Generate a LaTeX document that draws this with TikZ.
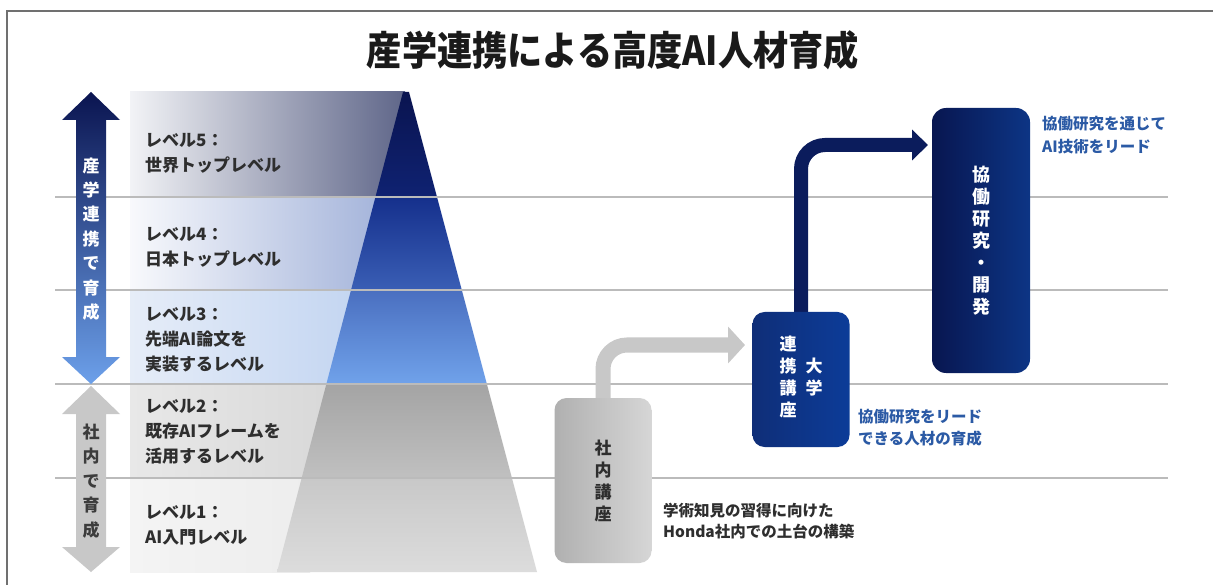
\documentclass[tikz,border=0pt]{standalone}
\usepackage{fontspec}
\setmainfont{Noto Sans CJK JP}
\usetikzlibrary{arrows.meta,calc}
\pgfdeclarelayer{fg}
\pgfsetlayers{main,fg}
\definecolor{framec}{HTML}{707070}
\definecolor{titlec}{HTML}{1A1A1A}
\definecolor{txtdark}{HTML}{2E2E2E}
\definecolor{txtmid}{HTML}{3C3C3C}
\definecolor{txtblue}{HTML}{2B5AA5}
\definecolor{linegray}{HTML}{BBBBBB}
\definecolor{navyd}{HTML}{0A1450}
\definecolor{lblue}{HTML}{6CA0EA}
\definecolor{arrgray}{HTML}{C8C8C8}
\definecolor{lev5L}{HTML}{F2F3F6}
\definecolor{lev5R}{HTML}{5F6689}
\definecolor{lev4L}{HTML}{F8F9FC}
\definecolor{lev4R}{HTML}{A3B3DA}
\definecolor{lev3L}{HTML}{E6EDF8}
\definecolor{lev3R}{HTML}{C3D5F1}
\definecolor{lev2L}{HTML}{E8E8E8}
\definecolor{lev2R}{HTML}{D8D8D8}
\definecolor{lev1L}{HTML}{F4F4F4}
\definecolor{lev1R}{HTML}{EDEDED}
\definecolor{pyr5T}{HTML}{0A1450}
\definecolor{pyr5B}{HTML}{0F2272}
\definecolor{pyr4T}{HTML}{15308C}
\definecolor{pyr4B}{HTML}{3A5EB5}
\definecolor{pyr3T}{HTML}{4A6FC0}
\definecolor{pyr3B}{HTML}{70A2EA}
\definecolor{pyr2T}{HTML}{A4A4A4}
\definecolor{pyr2B}{HTML}{C0C0C0}
\definecolor{pyr1T}{HTML}{C8C8C8}
\definecolor{pyr1B}{HTML}{DCDCDC}
\definecolor{boxgL}{HTML}{B0B0B0}
\definecolor{boxgR}{HTML}{D6D6D6}
\definecolor{univL}{HTML}{0F2E78}
\definecolor{univR}{HTML}{0C3C98}
\definecolor{resL}{HTML}{081650}
\definecolor{resR}{HTML}{0D3585}
\definecolor{navyarr}{HTML}{0B1C5C}
\begin{document}
\begin{tikzpicture}[x=1pt,y=-1pt,
  levtxt/.style={anchor=west,align=left,inner sep=0pt,text=txtdark,font=\bfseries\fontsize{17}{25}\selectfont},
  arrtxt/.style={align=center,inner sep=0pt,font=\bfseries\fontsize{17}{24.4}\selectfont},
  hline/.style={draw=linegray,line width=1.5pt},
  boxst/.style={rounded corners=12pt,minimum width=97pt,inner sep=0pt,align=center,font=\bfseries\fontsize{17}{22}\selectfont},
  bluetxt/.style={anchor=west,align=left,inner sep=0pt,text=txtblue,font=\bfseries\fontsize{15.5}{23}\selectfont},
  garrow/.style={draw=arrgray,line width=15pt,rounded corners=24pt,-{Triangle[length=17pt,width=36pt]}},
  narrow/.style={draw=navyarr,line width=14pt,rounded corners=24pt,-{Triangle[length=16pt,width=30pt]}}
]
\useasboundingbox (0,0) rectangle (1213,585);
\fill[white] (0,0) rectangle (1213,585);
% frame
\draw[framec,line width=1.5pt] (7,585) -- (7,11) -- (1213,11);
% title
\node[font=\bfseries\fontsize{40}{42}\selectfont,text=titlec,inner sep=0pt] (title) at (613,50) {\scalebox{0.88}[1]{産学連携による高度AI人材育成}};
% bands
\shade[left color=lev5L,right color=lev5R] (130,92) rectangle (405,197);
\shade[left color=lev4L,right color=lev4R] (130,197) rectangle (385,290);
\shade[left color=lev3L,right color=lev3R] (130,290) rectangle (360,384);
\shade[left color=lev2L,right color=lev2R] (130,384) rectangle (335,478);
\shade[left color=lev1L,right color=lev1R] (130,478) rectangle (310,572);
% pyramid
\begin{scope}
\clip (403,92) -- (409,92) -- (537,572) -- (277,572) -- cycle;
\shade[top color=pyr5T,bottom color=pyr5B] (250,92) rectangle (560,197);
\shade[top color=pyr4T,bottom color=pyr4B] (250,197) rectangle (560,290);
\shade[top color=pyr3T,bottom color=pyr3B] (250,290) rectangle (560,384);
\shade[top color=pyr2T,bottom color=pyr2B] (250,384) rectangle (560,478);
\shade[top color=pyr1T,bottom color=pyr1B] (250,478) rectangle (560,572);
\end{scope}
% separator lines
\foreach \yy in {197,290,384,478} \draw[hline] (55,\yy) -- (1168,\yy);
% left arrows
\shade[top color=navyd,bottom color=lblue] (91,92) -- (120,120) -- (106,120) -- (106,357) -- (120,357) -- (91,384) -- (62,357) -- (76,357) -- (76,120) -- (62,120) -- cycle;
\node[arrtxt,text=white] (upt) at (91,239) {産\\学\\連\\携\\で\\育\\成};
\fill[arrgray] (91,386) -- (120,414) -- (106,414) -- (106,547) -- (120,547) -- (91,572) -- (62,547) -- (76,547) -- (76,414) -- (62,414) -- cycle;
\node[arrtxt,text=txtmid] (dnt) at (91,481) {社\\内\\で\\育\\成};
% level texts
\node[levtxt] (l5) at (145,153) {レベル5：\\世界トップレベル};
\node[levtxt] (l4) at (145,247.5) {レベル4：\\日本トップレベル};
\node[levtxt] (l3) at (145,339.5) {レベル3：\\先端AI論文を\\実装するレベル};
\node[levtxt] (l2) at (145,432) {レベル2：\\既存AIフレームを\\活用するレベル};
\node[levtxt] (l1) at (145,525.5) {レベル1：\\AI入門レベル};
% boxes (front layer)
\begin{pgfonlayer}{fg}
\node[boxst,minimum height=165pt,left color=boxgL,right color=boxgR,text=txtdark] (inbox) at (603,480.5) {社\\内\\講\\座};
\node[boxst,minimum height=135pt,left color=univL,right color=univR,text=white] (univ) at (801,379.5)
  {\begin{tabular}[c]{@{}c@{}}連\\携\\講\\座\end{tabular}\hspace{9pt}\begin{tabular}[c]{@{}c@{}}大\\学\end{tabular}};
\node[boxst,rounded corners=14pt,minimum width=98pt,minimum height=265pt,left color=resL,right color=resR,text=white,font=\bfseries\fontsize{18}{22}\selectfont] (research) at (981,240.5) {協\\働\\研\\究\\・\\開\\発};
\end{pgfonlayer}
% connectors
\coordinate (gend) at (745,345);
\coordinate (nend) at (928,145);
\draw[garrow] (inbox.north) |- (gend);
\draw[narrow] (univ.north) |- (nend);
% notes
\node[bluetxt] (rnote) at (1042,135.5) {協働研究を通じて\\AI技術をリード};
\node[bluetxt,font=\bfseries\fontsize{15.5}{21.5}\selectfont] (unote) at (858,427.5) {協働研究をリード\\できる人材の育成};
\node[bluetxt,text=txtdark,font=\bfseries\fontsize{15.5}{20.5}\selectfont] (inote) at (663,521) {学術知見の習得に向けた\\Honda社内での土台の構築};
\end{tikzpicture}
\end{document}
